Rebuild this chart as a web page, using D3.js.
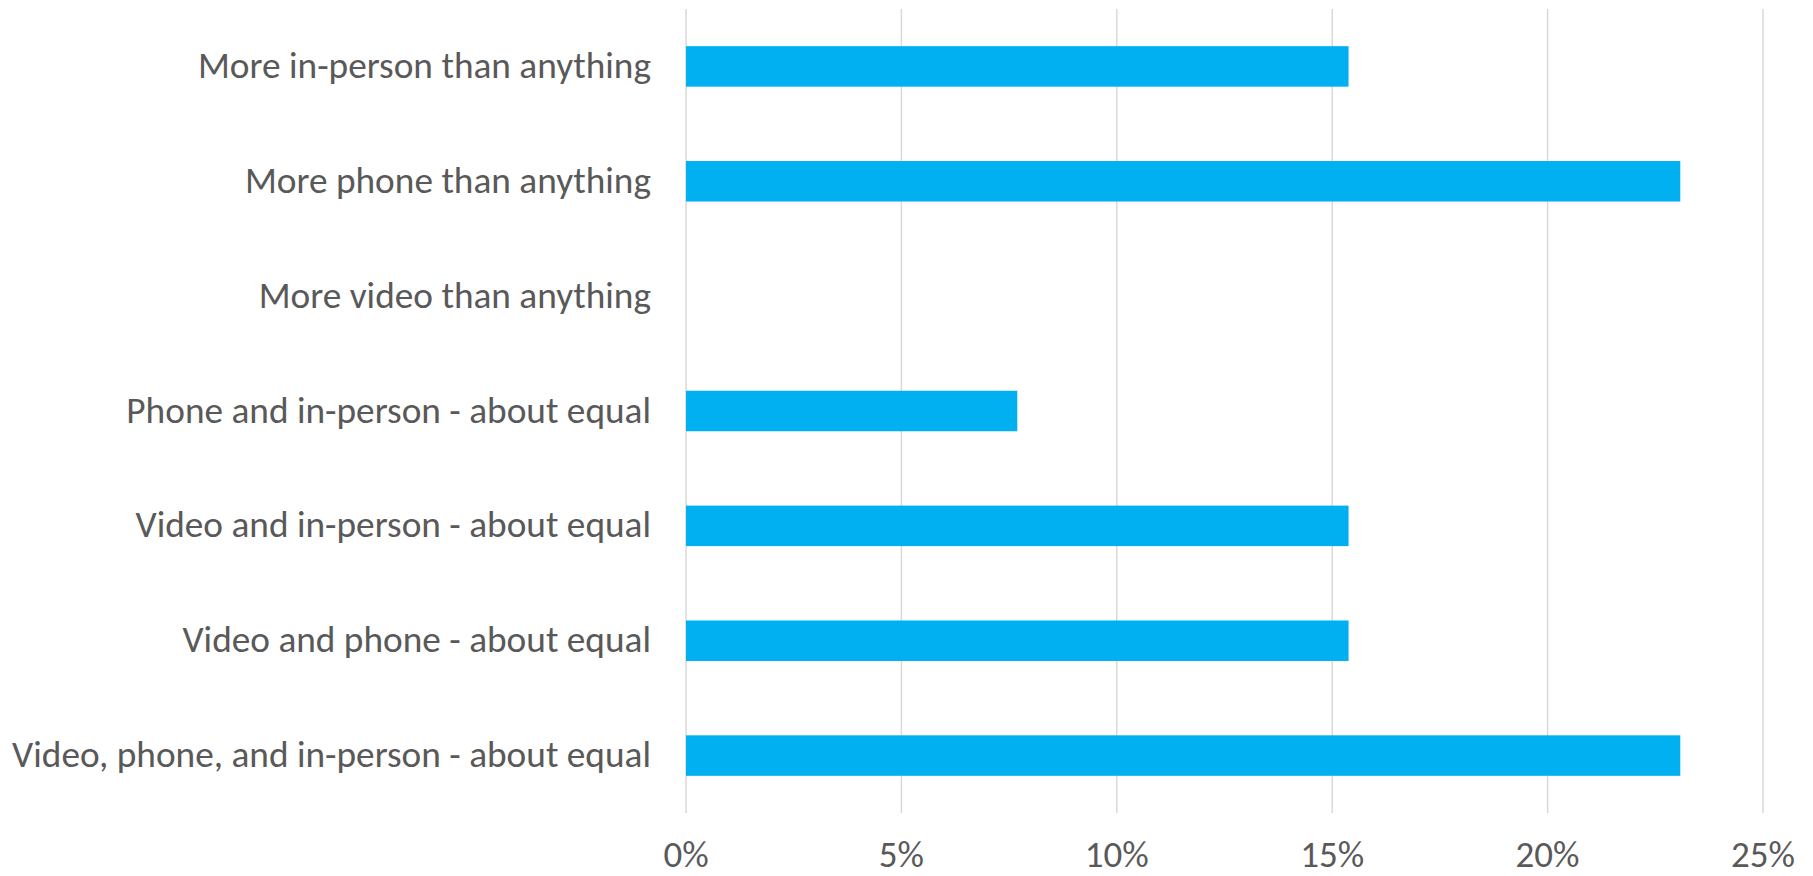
<!DOCTYPE html>
<html>
<head>
<meta charset="utf-8">
<script src="https://cdn.jsdelivr.net/npm/d3@7"></script>
<style>
  html, body { margin: 0; padding: 0; background: #fff; }
  svg { display: block; }
</style>
</head>
<body>
<svg id="chart" width="1813" height="876"></svg>
<script>
const categories = [
  "More in-person than anything",
  "More phone than anything",
  "More video than anything",
  "Phone and in-person - about equal",
  "Video and in-person - about equal",
  "Video and phone - about equal",
  "Video, phone, and in-person - about equal"
];
const values = [0.1538, 0.2308, 0, 0.0769, 0.1538, 0.1538, 0.2308];
const tickValues = [0, 0.05, 0.10, 0.15, 0.20, 0.25];
const tickLabels = ["0%", "5%", "10%", "15%", "20%", "25%"];

const svg = d3.select("#chart");
const FONT = "Carlito, Calibri, Lato, 'Open Sans', sans-serif";
const TEXT = "#595959";

const x = d3.scaleLinear().domain([0, 0.25]).range([686, 1763]);
const y = d3.scaleBand().domain(categories).range([9, 813])
  .paddingInner(0.6475).paddingOuter(0.32375);

// gridlines
svg.append("g").selectAll("line").data(tickValues).join("line")
  .attr("x1", d => x(d)).attr("x2", d => x(d))
  .attr("y1", 9).attr("y2", 813)
  .attr("stroke", "#d9d9d9").attr("stroke-width", 1.5);

// bars
svg.append("g").selectAll("rect").data(categories).join("rect")
  .attr("x", x(0))
  .attr("y", d => y(d))
  .attr("width", (d, i) => x(values[i]) - x(0))
  .attr("height", y.bandwidth())
  .attr("fill", "#00B0F0");

// category labels
svg.append("g").selectAll("text").data(categories).join("text")
  .attr("x", 651)
  .attr("y", d => y(d) + y.bandwidth() / 2 + 11.5)
  .attr("text-anchor", "end")
  .attr("font-family", FONT)
  .attr("font-size", 37.3)
  .attr("fill", TEXT)
  .text(d => d);

// x tick labels
svg.append("g").selectAll("text").data(tickValues).join("text")
  .attr("x", d => x(d))
  .attr("y", 867)
  .attr("text-anchor", "middle")
  .attr("font-family", FONT)
  .attr("font-size", 37)
  .attr("fill", TEXT)
  .text((d, i) => tickLabels[i]);
</script>
</body>
</html>
